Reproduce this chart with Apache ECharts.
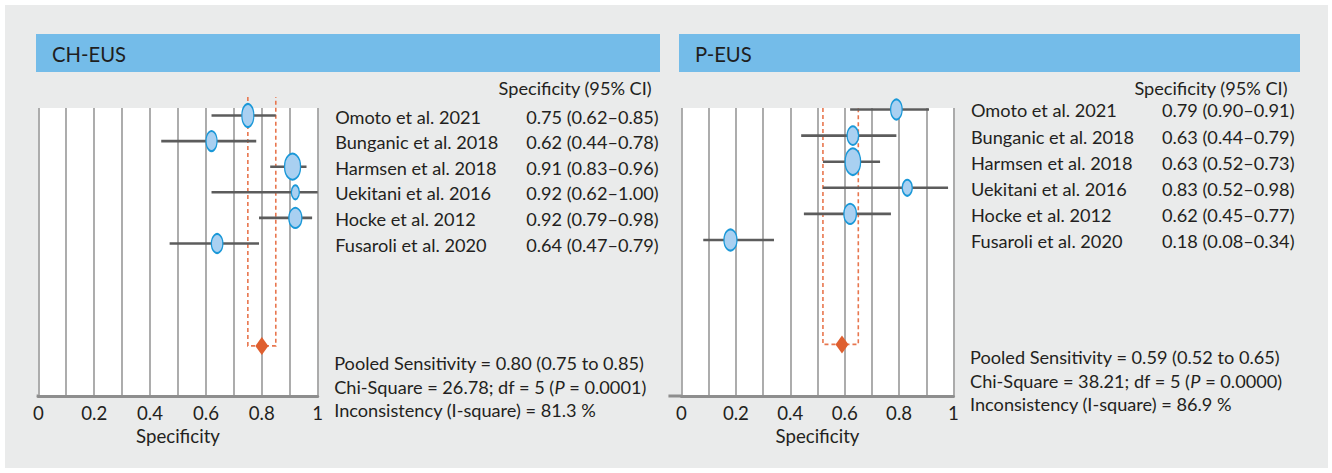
<!DOCTYPE html>
<html><head><meta charset="utf-8">
<script src="https://cdn.jsdelivr.net/npm/echarts@6/dist/echarts.min.js"></script>
<style>
html,body{margin:0;padding:0;background:#fff;}
#bg{position:absolute;left:5px;top:5px;width:1323px;height:463px;background:#eaebeb;}
#chart{position:absolute;left:0;top:0;width:1332px;height:473px;}
</style></head><body>
<div id="bg"></div><div id="chart"></div>
<script>
// ---------- data ----------
const studies = ['Omoto et al. 2021', 'Bunganic et al. 2018', 'Harmsen et al. 2018', 'Uekitani et al. 2016', 'Hocke et al. 2012', 'Fusaroli et al. 2020'];
const xTicks = [0, 0.2, 0.4, 0.6, 0.8, 1];

const chTitle = 'CH-EUS';
const chEst = [0.75, 0.62, 0.91, 0.92, 0.92, 0.64];
const chLo  = [0.62, 0.44, 0.83, 0.62, 0.79, 0.47];
const chHi  = [0.85, 0.78, 0.96, 1.00, 0.98, 0.79];
const chLabels = ['0.75 (0.62–0.85)', '0.62 (0.44–0.78)', '0.91 (0.83–0.96)', '0.92 (0.62–1.00)', '0.92 (0.79–0.98)', '0.64 (0.47–0.79)'];
const chWeightW = [12, 11, 16, 8, 13, 11.5];
const chWeightH = [23, 20, 26, 14, 20, 19];
const chPooled = [0.80, 0.75, 0.85];
const chStats = ['Pooled Sensitivity = 0.80 (0.75 to 0.85)', ['Chi-Square = 26.78; df = 5 (', 'P', ' = 0.0001)'], 'Inconsistency (I-square) = 81.3 %'];

const pTitle = 'P-EUS';
const pEst = [0.79, 0.63, 0.63, 0.83, 0.62, 0.18];
const pLo  = [0.62, 0.44, 0.52, 0.52, 0.45, 0.08];
const pHi  = [0.91, 0.79, 0.73, 0.98, 0.77, 0.34];
const pLabels = ['0.79 (0.90–0.91)', '0.63 (0.44–0.79)', '0.63 (0.52–0.73)', '0.83 (0.52–0.98)', '0.62 (0.45–0.77)', '0.18 (0.08–0.34)'];
const pWeightW = [11.5, 11.5, 15.5, 10, 12.5, 13];
const pWeightH = [20, 18.5, 26.5, 16, 20, 21];
const pPooled = [0.59, 0.52, 0.65];
const pStats = ['Pooled Sensitivity = 0.59 (0.52 to 0.65)', ['Chi-Square = 38.21; df = 5 (', 'P', ' = 0.0000)'], 'Inconsistency (I-square) = 86.9 %'];

const colHeader = 'Specificity (95% CI)';
const axisTitle = 'Specificity';

// ---------- styling ----------
const FONT = 'Lato';
const TXT = '#231f20';
const pooledRow = 9;

// font sizes fitted to the widths of the reference typesetting
const mctx = document.createElement('canvas').getContext('2d');
function fit(text, target) { mctx.font = '20px ' + FONT; return 20 * target / mctx.measureText(text).width; }
const FS = (fit(studies[0], 144) + fit(pLabels[0], 134) + fit(chStats[0], 312) + fit(colHeader, 153)) / 4;
const TFS = fit(chTitle, 74);
const AFS = (fit(axisTitle, 84) + fit('0.2', 26)) / 2;

const panels = [
  {title: chTitle, est: chEst, lo: chLo, hi: chHi, labels: chLabels, W: chWeightW, H: chWeightH, pooled: chPooled, stats: chStats,
   grid: {left: 38.3, top: 108, width: 279.4, height: 288}, yMin: -0.293, yMax: 10.957, dashTop: -0.72, axisExt: 0.006,
   bar: {x: 36, w: 624}, statsY: [363, 386.5, 409.5]},
  {title: pTitle, est: pEst, lo: pLo, hi: pHi, labels: pLabels, W: pWeightW, H: pWeightH, pooled: pPooled, stats: pStats,
   grid: {left: 681.5, top: 108, width: 272, height: 288}, yMin: -0.057, yMax: 10.977, dashTop: -0.06, axisExt: 0.048,
   bar: {x: 679, w: 621}, statsY: [357, 380.5, 404]}
];

const grids = [], xAxes = [], yAxes = [], series = [], graphic = [];

panels.forEach((pn, k) => {
  grids.push(Object.assign({show: true, backgroundColor: '#fff', borderWidth: 0}, pn.grid));
  xAxes.push({
    gridIndex: k, type: 'value', min: 0, max: 1, interval: 0.1,
    axisLine: {show: true, onZero: false, lineStyle: {color: '#8e8e8e', width: 3}},
    axisTick: {show: false},
    splitLine: {show: true, lineStyle: {color: '#a4a4a4', width: 1.8}},
    axisLabel: {
      margin: 7, color: TXT, fontFamily: FONT, fontSize: AFS,
      formatter: v => { const t = xTicks.find(x => Math.abs(x - v) < 1e-6); return t === undefined ? '' : String(t); }
    },
    name: axisTitle, nameLocation: 'middle', nameGap: 30,
    nameTextStyle: {color: TXT, fontFamily: FONT, fontSize: AFS}
  });
  yAxes.push({gridIndex: k, type: 'value', inverse: true, min: pn.yMin, max: pn.yMax, show: false, splitLine: {show: false}});

  // short extension of the baseline to the left of 0
  series.push({
    type: 'custom', xAxisIndex: k, yAxisIndex: k, clip: false, z: 2, silent: true,
    data: [[-pn.axisExt, 0, pn.yMax]],
    renderItem: (params, api) => {
      const p1 = api.coord([api.value(0), api.value(2)]);
      const p2 = api.coord([api.value(1), api.value(2)]);
      return {type: 'line', shape: {x1: p1[0], y1: p1[1], x2: p2[0], y2: p2[1]},
        style: {stroke: '#8e8e8e', lineWidth: 3}};
    }
  });
  // dashed pooled CI box
  series.push({
    type: 'custom', xAxisIndex: k, yAxisIndex: k, clip: false, z: 3, silent: true,
    data: [[pn.pooled[1], pn.pooled[2], pn.dashTop, pooledRow]],
    renderItem: (params, api) => {
      const a = api.coord([api.value(0), api.value(2)]);
      const b = api.coord([api.value(0), api.value(3)]);
      const c = api.coord([api.value(1), api.value(3)]);
      const d = api.coord([api.value(1), api.value(2)]);
      return {type: 'polyline', shape: {points: [a, b, c, d]},
        style: {stroke: '#e8764e', lineWidth: 1.6, lineDash: [4, 3], fill: null}};
    }
  });
  // CI whiskers
  series.push({
    type: 'custom', xAxisIndex: k, yAxisIndex: k, clip: false, z: 4, silent: true,
    data: pn.lo.map((v, i) => [v, pn.hi[i], i]),
    renderItem: (params, api) => {
      const p1 = api.coord([api.value(0), api.value(2)]);
      const p2 = api.coord([api.value(1), api.value(2)]);
      return {type: 'line', shape: {x1: p1[0], y1: p1[1], x2: p2[0], y2: p2[1]},
        style: {stroke: '#5c5c5c', lineWidth: 2.6}};
    }
  });
  // study markers (ellipses sized by weight)
  series.push({
    type: 'scatter', xAxisIndex: k, yAxisIndex: k, clip: false, z: 5, silent: true,
    symbol: 'circle',
    data: pn.est.map((v, i) => ({value: [v, i], symbolSize: [pn.W[i], pn.H[i]]})),
    itemStyle: {color: '#a9d0f1', borderColor: '#1a98d8', borderWidth: 1.6, opacity: 1}
  });
  // pooled diamond
  series.push({
    type: 'scatter', xAxisIndex: k, yAxisIndex: k, clip: false, z: 6, silent: true,
    symbol: 'diamond', symbolSize: [13, 18],
    data: [[pn.pooled[0], pooledRow]],
    itemStyle: {color: '#df5f2f', opacity: 1}
  });
  // right-hand text table, aligned to the rows through the y scale
  series.push({
    type: 'custom', xAxisIndex: k, yAxisIndex: k, clip: false, z: 6, silent: true,
    data: studies.map((s, i) => [i]),
    renderItem: (params, api) => {
      const i = params.dataIndex;
      const cs = params.coordSys;
      const y = api.coord([0, api.value(0)])[1] + 1;
      const r = cs.x + cs.width;
      const font = FS.toFixed(2) + 'px ' + FONT;
      const children = [
        {type: 'text', style: {text: studies[i], x: r + 17.5, y: y, fill: TXT, font: font, align: 'left', verticalAlign: 'middle'}},
        {type: 'text', style: {text: pn.labels[i], x: r + 341, y: y, fill: TXT, font: font, align: 'right', verticalAlign: 'middle'}}
      ];
      if (i === 0) {
        children.push({type: 'text', style: {text: colHeader, x: r + 334, y: cs.y - 20, fill: TXT, font: font, align: 'right', verticalAlign: 'middle'}});
      }
      return {type: 'group', children: children};
    }
  });

  // header bar + title
  graphic.push({type: 'rect', x: pn.bar.x, y: 34, shape: {width: pn.bar.w, height: 38}, style: {fill: '#74bce9'}, z: 1});
  graphic.push({type: 'text', x: pn.bar.x + 16, y: 54, z: 2,
    style: {text: pn.title, fill: '#1f1f1f', font: TFS.toFixed(2) + 'px ' + FONT, align: 'left', verticalAlign: 'middle'}});
  // heterogeneity statistics
  const sx = pn.grid.left + pn.grid.width + 16.5;
  pn.stats.forEach((s, j) => {
    let txt;
    if (Array.isArray(s)) txt = '{n|' + s[0] + '}{i|' + s[1] + '}{n|' + s[2] + '}';
    else txt = '{n|' + s + '}';
    graphic.push({type: 'text', x: sx, y: pn.statsY[j], z: 2,
      style: {text: txt, verticalAlign: 'middle', fill: TXT,
        rich: {n: {fontFamily: FONT, fontSize: FS, fill: TXT}, i: {fontFamily: FONT, fontSize: FS, fontStyle: 'italic', fill: TXT}}}});
  });
});

const chart = echarts.init(document.getElementById('chart'), null, {renderer: 'svg'});
chart.setOption({
  animation: false,
  backgroundColor: 'transparent',
  textStyle: {fontFamily: FONT},
  grid: grids, xAxis: xAxes, yAxis: yAxes, series: series, graphic: graphic
});
</script>
</body></html>
